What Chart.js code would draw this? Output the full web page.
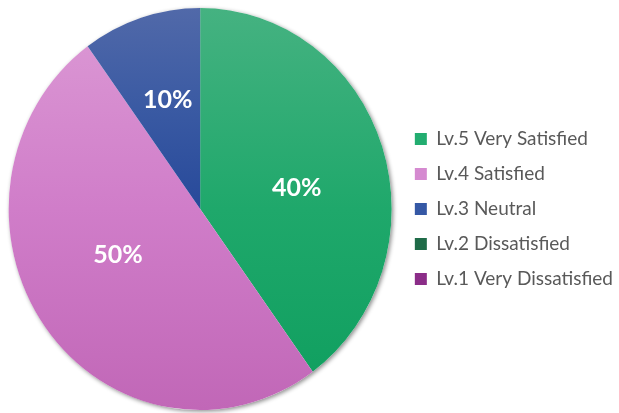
<!DOCTYPE html>
<html>
<head>
<meta charset="utf-8">
<script src="https://cdn.jsdelivr.net/npm/chart.js@4.4.1/dist/chart.umd.min.js"></script>
<style>
  html, body { margin: 0; padding: 0; background: #ffffff; }
  canvas { display: block; }
</style>
</head>
<body>
<canvas id="pieChart" width="619" height="413"></canvas>
<script>
// Satisfaction levels and their share of answers (%)
const levels = ['Lv.5 Very Satisfied', 'Lv.4 Satisfied', 'Lv.3 Neutral', 'Lv.2 Dissatisfied', 'Lv.1 Very Dissatisfied'];
const shares = [40, 50, 10, 0, 0];

// Flat colours (legend swatches) and top-to-bottom gradient stops for the slices
const swatchColors = ['#22ad70', '#d58ad0', '#3558a5', '#1f6b48', '#8b2d88'];
const sliceStops = [
    [[0, '#45b281'], [0.5, '#1fa86b'], [1, '#0e9e5e']],
    [[0, '#dc9ad5'], [0.5, '#d07dc9'], [1, '#c167b7']],
    [[0, '#5169a9'], [0.25, '#3a5aa3'], [0.5, '#27499a'], [1, '#1e4090']],
    [[0, '#2a7a55'], [1, '#185c3c']],
    [[0, '#9c3c98'], [1, '#7a2478']]
];

// The pie is drawn slightly taller than wide
const stretchY = 1.05;

// Vertical gradient spanning the whole pie
function sliceFill(c) {
    const area = c.chart.chartArea;
    if (!area) return swatchColors[c.dataIndex];
    const cy = (area.top + area.bottom) / 2;
    const r = Math.min(area.width, area.height) / 2;
    const g = c.chart.ctx.createLinearGradient(0, cy - r, 0, cy + r);
    sliceStops[c.dataIndex].forEach(([at, col]) => g.addColorStop(at, col));
    return g;
}

// Stretch the pie vertically and put a soft shadow under it
const ovalPie = {
    id: 'ovalPie',
    beforeDatasetsDraw(chart) {
        const arc = chart.getDatasetMeta(0).data[0];
        const ctx = chart.ctx;
        ctx.save();
        ctx.translate(arc.x, arc.y);
        ctx.scale(1, stretchY);
        ctx.translate(-arc.x, -arc.y);

        ctx.save();
        ctx.shadowColor = 'rgba(0, 0, 0, 0.45)';
        ctx.shadowBlur = 4;
        ctx.shadowOffsetX = 1.5;
        ctx.shadowOffsetY = 1.5;
        ctx.beginPath();
        ctx.arc(arc.x, arc.y, arc.outerRadius, 0, Math.PI * 2);
        ctx.fillStyle = '#ffffff';
        ctx.fill();
        ctx.restore();
    },
    afterDatasetsDraw(chart) {
        chart.ctx.restore();
    }
};

// Percent labels inside each non-empty slice (nudged by hand like best-fit labels)
const sliceLabels = {
    id: 'sliceLabels',
    afterDatasetsDraw(chart, args, opts) {
        const ctx = chart.ctx;
        const meta = chart.getDatasetMeta(0);
        ctx.save();
        ctx.font = 'bold 25px Lato';
        ctx.fillStyle = '#ffffff';
        ctx.textAlign = 'center';
        ctx.textBaseline = 'middle';
        meta.data.forEach((arc, i) => {
            const v = shares[i];
            if (!v) return;
            const mid = (arc.startAngle + arc.endAngle) / 2;
            const r = arc.outerRadius * 0.53;
            const [dx, dy] = opts.nudge[i] || [0, 0];
            ctx.fillText(v + '%', arc.x + Math.cos(mid) * r + dx, arc.y + Math.sin(mid) * r * stretchY + dy);
        });
        ctx.restore();
    }
};

const ctx = document.getElementById('pieChart').getContext('2d');
const pieChart = new Chart(ctx, {
    type: 'pie',
    data: {
        labels: levels,
        datasets: [{
            data: shares,
            backgroundColor: sliceFill,
            borderWidth: 0
        }]
    },
    options: {
        responsive: false,
        animation: false,
        layout: {
            padding: { left: 1.5, right: -4, top: 17.5, bottom: 12.5 }
        },
        plugins: {
            tooltip: { enabled: false },
            sliceLabels: {
                nudge: [[0, 12], [0, -17], [-1, -8]]
            },
            legend: {
                position: 'right',
                align: 'center',
                labels: {
                    boxWidth: 12,
                    boxHeight: 12,
                    padding: 16,
                    color: '#595959',
                    font: { family: 'Lato', size: 19 },
                    generateLabels(chart) {
                        return chart.data.labels.map((text, i) => ({
                            text: text,
                            fillStyle: swatchColors[i],
                            strokeStyle: swatchColors[i],
                            lineWidth: 0,
                            fontColor: '#595959',
                            hidden: false,
                            index: i
                        }));
                    }
                }
            }
        }
    },
    plugins: [ovalPie, sliceLabels]
});
</script>
</body>
</html>
